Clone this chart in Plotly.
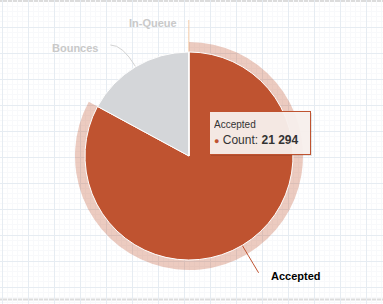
import math
import plotly.graph_objects as go

# ---- data ----
categories = ["Accepted", "Bounces", "In-Queue"]
counts = [21294, 4381, 12]
slice_colors = ["#bf5330", "#d4d6d9", "#f6d4b6"]
label_colors = ["#000000", "#c9c9c9", "#c9c9c9"]
connector_colors = ["#bf5330", "#d2d2d2", "#f5cdaa"]
hovered = 0
tooltip_field = "Count"

# ---- layout constants (pixels) ----
W, H = 383, 304
cx, cy, r = 189, 156, 104
halo_w = 10
label_dist = 32
font = "Liberation Sans, Arial, sans-serif"

fig = go.Figure()

# empty cartesian trace so the pixel grid axes are drawn
fig.add_trace(go.Scatter(x=[None], y=[None], showlegend=False, hoverinfo="skip"))


def dom(rad):
    return dict(x=[(cx - rad) / W, (cx + rad) / W],
                y=[(H - cy - rad) / H, (H - cy + rad) / H])


halo_colors = ["rgba(191,83,48,0.30)" if i == hovered else "rgba(0,0,0,0)"
               for i in range(len(categories))]
fig.add_trace(go.Pie(labels=categories, values=counts, sort=False,
                     direction="clockwise", rotation=0,
                     marker=dict(colors=halo_colors, line=dict(width=0)),
                     textinfo="none", hoverinfo="skip", showlegend=False,
                     domain=dom(r + halo_w)))
fig.add_trace(go.Pie(labels=categories, values=counts, sort=False,
                     direction="clockwise", rotation=0,
                     marker=dict(colors=slice_colors, line=dict(color="white", width=1)),
                     textinfo="none", hoverinfo="skip", showlegend=False,
                     domain=dom(r)))

# ---- data labels with connectors (derived from the values) ----
total = sum(counts)
R = r + label_dist
items = []
cum = 0
for i, v in enumerate(counts):
    th = (cum + v / 2) / total * 2 * math.pi
    cum += v
    s, c = math.sin(th), math.cos(th)
    side = 1 if s > 0.01 else -1
    items.append(dict(i=i, th=th, s=s, c=c, side=side, y=cy - R * c))

for side in (1, -1):
    grp = sorted([it for it in items if it["side"] == side], key=lambda d: d["y"])
    for k in range(1, len(grp)):
        if grp[k]["y"] < grp[k - 1]["y"] + 25:
            grp[k]["y"] = grp[k - 1]["y"] + 25

shapes = []
annotations = []
for it in items:
    i = it["i"]
    ex, ey = cx + r * it["s"], cy - r * it["c"]
    ly = it["y"]
    lx = cx + it["side"] * math.sqrt(max(R * R - (ly - cy) ** 2, 0))
    qx, qy = cx + (r + label_dist * 0.8) * it["s"], cy - (r + label_dist * 0.8) * it["c"]
    shapes.append(dict(type="path", xref="x", yref="y", layer="between",
                       path=f"M {ex:.1f},{ey:.1f} Q {qx:.1f},{qy:.1f} {lx:.1f},{ly:.1f}",
                       line=dict(color=connector_colors[i], width=1)))
    annotations.append(dict(x=lx + it["side"] * 10, y=ly + 3, xref="x", yref="y",
                            text=f"<b>{categories[i]}</b>", showarrow=False,
                            xanchor="left" if it["side"] > 0 else "right",
                            yanchor="middle",
                            font=dict(family=font, size=11, color=label_colors[i])))

# top / bottom border lines
shapes.append(dict(type="line", xref="paper", yref="y", x0=0, x1=1, y0=1, y1=1,
                   line=dict(color="#dcdcdc", width=2), layer="between"))
shapes.append(dict(type="line", xref="paper", yref="y", x0=0, x1=1, y0=299.5, y1=299.5,
                   line=dict(color="#dcdcdc", width=2), layer="between"))

# ---- tooltip ----
val = f"{counts[hovered]:,}".replace(",", " ")
tip = (f"<span style='font-size:10px'>{categories[hovered]}</span><br>"
       f"<span style='color:{slice_colors[hovered]};font-size:9px'>●</span> "
       f"{tooltip_field}: <b>{val}</b>")
shapes.append(dict(type="rect", xref="x", yref="y", x0=211, y0=113, x1=312, y1=156,
                   fillcolor="rgba(0,0,0,0.10)", line=dict(width=0), layer="above"))
annotations.append(dict(x=209, y=110.5, xref="x", yref="y", xanchor="left", yanchor="top",
                        text=tip, showarrow=False, align="left", valign="middle",
                        width=92, height=34, borderpad=4,
                        bgcolor="rgba(248,240,237,0.95)", bordercolor=slice_colors[hovered],
                        borderwidth=1, font=dict(family=font, size=12, color="#333333")))

fig.update_layout(
    width=W, height=H,
    margin=dict(l=0, r=0, t=0, b=0),
    paper_bgcolor="white", plot_bgcolor="white",
    showlegend=False,
    font=dict(family=font),
    xaxis=dict(range=[0, W], tick0=2, dtick=26, showgrid=True, gridcolor="#e6ecf2",
               gridwidth=1, zeroline=False, showticklabels=False, ticks="",
               minor=dict(tick0=2, dtick=26 / 5, showgrid=True, gridcolor="#f8f9fb"),
               fixedrange=True),
    yaxis=dict(range=[H, 0], tick0=1, dtick=26, showgrid=True, gridcolor="#e6ecf2",
               gridwidth=1, zeroline=False, showticklabels=False, ticks="",
               minor=dict(tick0=1, dtick=26 / 5, showgrid=True, gridcolor="#f8f9fb"),
               fixedrange=True),
    shapes=shapes,
    annotations=annotations,
)

fig.write_html("out.html", config={"displayModeBar": False})
